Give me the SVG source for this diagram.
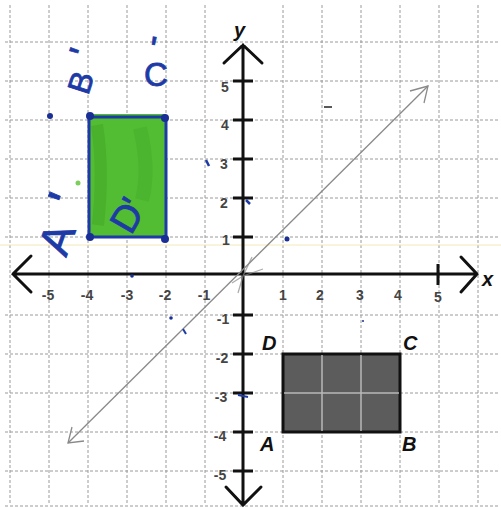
<svg xmlns="http://www.w3.org/2000/svg" width="501" height="508" viewBox="0 0 501 508">
<style>
.grid{stroke:#9a9a9a;stroke-width:1;stroke-dasharray:3,2;fill:none}
.axis{stroke:#111;stroke-width:3;fill:none;stroke-linecap:round}
.tick{stroke:#111;stroke-width:3}
.num{font-family:"Liberation Sans",Arial,sans-serif;font-size:14px;font-weight:bold;fill:#444;text-anchor:middle}
.vlab{font-family:"Liberation Sans",Arial,sans-serif;font-size:20px;font-weight:bold;font-style:italic;fill:#111}
.hand{font-family:"Liberation Sans",sans-serif;fill:#1d3aa6;stroke:#1d3aa6;stroke-width:0.8}
.diag{stroke:#8a8a8a;stroke-width:1.3;fill:none}
.dot{fill:#1a2f95}
</style>
<rect width="501" height="508" fill="#ffffff"/>
<g id="grid">
<path class="grid" d="M10 5V505M49 5V505M88 5V505M127 5V505M166 5V505M205 5V505M283 5V505M322 5V505M361 5V505M400 5V505M439 5V505M478 5V505"/>
<path class="grid" d="M5 42H500M5 81H500M5 120H500M5 159H500M5 198H500M5 237H500M5 315H500M5 354H500M5 393H500M5 432H500M5 471H500M5 506H500"/>
<line x1="0" y1="245" x2="501" y2="245" stroke="#f2e8b8" stroke-width="1"/>
</g>
<g id="rect-ABCD">
<rect x="283" y="354" width="117" height="78" fill="#5c5c5c" stroke="#111" stroke-width="3"/>
<path d="M322 355V431M361 355V431M284 393H399" stroke="#b8b8b8" stroke-width="1.5"/>
<text class="vlab" x="262" y="350">D</text>
<text class="vlab" x="403" y="350">C</text>
<text class="vlab" x="260" y="451">A</text>
<text class="vlab" x="402" y="451">B</text>
</g>
<g id="rect-A1B1C1D1">
<rect x="89" y="114" width="77" height="123" fill="#52bc32"/>
<path d="M97 125 Q104 170 98 225" stroke="#3fa526" stroke-width="12" fill="none" opacity="0.5"/>
<path d="M140 128 Q150 170 142 200" stroke="#44ab2a" stroke-width="14" fill="none" opacity="0.4"/>
<rect x="89" y="117" width="77" height="120" fill="none" stroke="#1d3aa6" stroke-width="3"/>
<circle class="dot" cx="90" cy="116" r="4"/>
<circle class="dot" cx="165" cy="118" r="4"/>
<circle class="dot" cx="90" cy="237" r="4"/>
<circle class="dot" cx="165" cy="239" r="4"/>
<text class="hand" font-size="44" transform="translate(66,258) rotate(-70)">A<tspan dx="20" dy="-2" font-size="52">'</tspan></text>
<text class="hand" font-size="32" transform="translate(88,96) rotate(-72)">B<tspan dx="14" dy="-4" font-size="40">'</tspan></text>
<text class="hand" font-size="33" x="144" y="86">C</text>
<text class="hand" font-size="36" x="150" y="62" transform="rotate(10 155 45)">'</text>
<text class="hand" font-size="38" transform="translate(131,236) rotate(-60)">D<tspan dx="-2">'</tspan></text>
</g>
<g id="axes">
<path class="axis" d="M13 274H477M31 256L13 274L31 292M461 257L477 274L461 292"/>
<path class="axis" d="M243 45V505M224 63L243 45L262 63M226 487L243 505L261 487"/>
<path class="tick" d="M233 81H253M233 120H253M233 159H253M233 198H253M233 237H253M233 315H253M233 354H253M233 393H253M233 432H253M233 471H253M438 264V285"/>
<text class="vlab" x="482" y="286">x</text>
<text class="vlab" x="234" y="37" font-size="22">y</text>
</g>
<g id="labels">
<text class="num" x="48" y="300">-5</text>
<text class="num" x="87" y="300">-4</text>
<text class="num" x="127" y="300">-3</text>
<text class="num" x="165" y="300">-2</text>
<text class="num" x="204" y="300" fill="#999">-1</text>
<text class="num" x="283" y="300" fill="#aaa">1</text>
<text class="num" x="320" y="300">2</text>
<text class="num" x="360" y="300">3</text>
<text class="num" x="398" y="300">4</text>
<text class="num" x="438" y="302">5</text>
<text class="num" x="225" y="92">5</text>
<text class="num" x="225" y="130" font-size="11">4</text>
<text class="num" x="224" y="169">3</text>
<text class="num" x="224" y="208">2</text>
<text class="num" x="226" y="245" font-size="10">1</text>
<text class="num" x="223" y="324">-1</text>
<text class="num" x="222" y="363">-2</text>
<text class="num" x="221" y="402">-3</text>
<text class="num" x="220" y="441">-4</text>
<text class="num" x="220" y="480">-5</text>
</g>
<g id="connectors">
<line class="diag" x1="68" y1="443" x2="428" y2="86"/>
<path class="diag" d="M410 91L428 86L424 103M72 427L68 443L84 441"/>
<path class="diag" d="M243 276L252 257M243 276L263 269M243 276L232 283M243 276L238 293" opacity="0.7"/>
</g>
<g id="marks">
<circle class="dot" cx="50" cy="116" r="3"/>
<path d="M206 160L209 166" stroke="#1d3aa6" stroke-width="2.5"/>
<path d="M246 200L250 204" stroke="#1d3aa6" stroke-width="2.5"/>
<circle class="dot" cx="287" cy="239" r="2.5"/>
<circle class="dot" cx="132" cy="276" r="1.8"/>
<circle class="dot" cx="171" cy="318" r="1.8"/>
<path d="M183 329L186 334" stroke="#1d3aa6" stroke-width="2"/>
<circle class="dot" cx="363" cy="321" r="1"/>
<path d="M238 395L248 397" stroke="#1d3aa6" stroke-width="2"/>
<path d="M324 107H332" stroke="#222" stroke-width="1.5"/>
<circle cx="78" cy="183" r="2.5" fill="#7ccf5a"/>
</g>
</svg>
